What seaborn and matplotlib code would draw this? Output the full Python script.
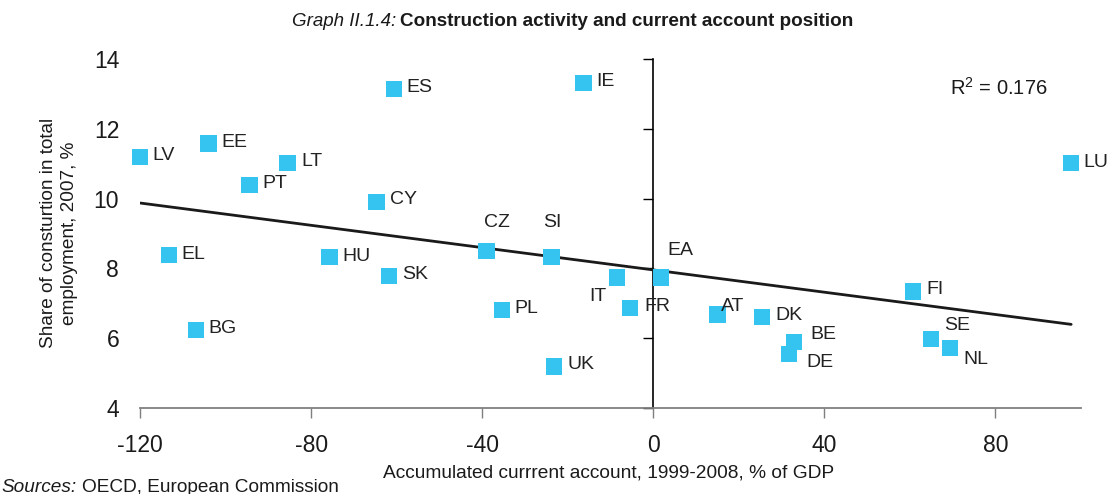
import numpy as np
import pandas as pd
import matplotlib
matplotlib.use("Agg")
import matplotlib.pyplot as plt
import seaborn as sns

# ---- data ----
countries = ["LV", "EE", "LT", "PT", "CY", "ES", "IE", "EL", "HU", "BG", "CZ", "SI",
             "SK", "PL", "UK", "IT", "EA", "FR", "AT", "DK", "BE", "DE", "FI", "SE",
             "NL", "LU"]
current_account = [-119.9, -104.0, -85.5, -94.4, -64.7, -60.7, -16.3, -113.3, -75.7,
                   -107.0, -39.0, -23.8, -61.7, -35.4, -23.2, -8.4, 1.9, -5.4, 15.0,
                   25.5, 33.0, 31.8, 60.7, 64.9, 69.4, 97.7]
construction_share = [11.18, 11.58, 11.01, 10.38, 9.91, 13.13, 13.30, 8.38, 8.32,
                      6.23, 8.49, 8.32, 7.77, 6.80, 5.19, 7.74, 7.74, 6.86, 6.68,
                      6.60, 5.89, 5.54, 7.34, 5.98, 5.71, 11.01]
x_ticks = [-120, -80, -40, 0, 40, 80]
y_ticks = [4, 6, 8, 10, 12, 14]
r_squared_text = "R$^{2}$ = 0.176"

# ---- label placement (style, in pixels: dx, dy, horizontal alignment) ----
label_style = {
    "LV": (12, 2, "left"), "EE": (13, 1, "left"), "LT": (14, 2, "left"),
    "PT": (13, 2, "left"), "CY": (13, 2, "left"), "ES": (13, 2, "left"),
    "IE": (13, 2, "left"), "EL": (13, 1, "left"), "HU": (13, 1, "left"),
    "BG": (13, 2, "left"), "CZ": (10, 29, "center"), "SI": (1, 35, "center"),
    "SK": (13, 2, "left"), "PL": (13, 2, "left"), "UK": (13, 2, "left"),
    "IT": (-19, -19, "center"), "EA": (19, 27, "center"), "FR": (14, 2, "left"),
    "AT": (4, 8, "left"), "DK": (13, 2, "left"), "BE": (16, 8, "left"),
    "DE": (17, -8, "left"), "FI": (13, 2, "left"), "SE": (13, 13, "left"),
    "NL": (13, -11, "left"), "LU": (12, 1, "left"),
}

df = pd.DataFrame({"country": countries, "ca": current_account, "cs": construction_share})

sns.set_style("white")
plt.rcParams["font.family"] = ["Liberation Sans", "DejaVu Sans"]
plt.rcParams["mathtext.fontset"] = "custom"
plt.rcParams["mathtext.rm"] = "Liberation Sans"
plt.rcParams["mathtext.default"] = "regular"

fig = plt.figure(figsize=(11.07, 4.94), dpi=100)
ax = fig.add_axes([140 / 1107, 1 - 408 / 494, 941 / 1107, 349 / 494])

sns.regplot(data=df, x="ca", y="cs", scatter=False, ci=None, truncate=True,
            color="#1a1a1a", line_kws={"lw": 2.0, "zorder": 3}, ax=ax)
sns.scatterplot(data=df, x="ca", y="cs", marker="s", s=135, color="#35C4F0",
                edgecolor="none", linewidth=0, zorder=4, ax=ax, legend=False,
                clip_on=False)

for _, row in df.iterrows():
    dx, dy, ha = label_style[row["country"]]
    ax.annotate(row["country"], (row["ca"], row["cs"]), xytext=(dx, dy),
                textcoords="offset pixels", ha=ha, va="center", fontsize=14,
                color="#222222", zorder=5, annotation_clip=False)

ax.set_xlim(-120, 100)
ax.set_ylim(4, 14)
ax.set_xticks(x_ticks)
ax.set_yticks(y_ticks)
ax.set_xticklabels([str(t) for t in x_ticks])
ax.set_yticklabels([str(t) for t in y_ticks])
ax.set_xlabel("")
ax.set_ylabel("")

for s in ["top", "right", "left"]:
    ax.spines[s].set_visible(False)
ax.spines["bottom"].set_color("#7f7f7f")
ax.spines["bottom"].set_linewidth(1.3)
ax.tick_params(axis="x", direction="out", length=7, width=1, color="#7f7f7f",
               labelsize=16.5, pad=12, labelcolor="#1a1a1a", bottom=True)
ax.tick_params(axis="y", length=0, labelsize=16.5, pad=15, labelcolor="#1a1a1a")

# vertical axis through x = 0 with ticks pointing left
zero_pos = (0 - ax.get_xlim()[0]) / (ax.get_xlim()[1] - ax.get_xlim()[0])
sec = ax.secondary_yaxis(zero_pos)
sec.set_alignment("left")
sec.set_yticks(y_ticks)
sec.tick_params(axis="y", direction="out", length=7, width=1, color="black",
                labelleft=False, labelright=False)
sec.spines["left"].set_color("black")
sec.spines["left"].set_linewidth(1.2)

ax.text(0.861, 0.917, r_squared_text, transform=ax.transAxes, ha="left",
        va="center", fontsize=14.5, color="#1a1a1a")

# axis titles
fig.text(59 / 1107, 1 - 233 / 494, "Share of consturtion in total\nemployment, 2007, %",
         rotation=90, ha="center", va="center", fontsize=13.7, linespacing=1.3,
         multialignment="center", color="#1a1a1a")
fig.text(609 / 1107, 1 - 473 / 494, "Accumulated currrent account, 1999-2008, % of GDP",
         ha="center", va="center", fontsize=13.8, color="#1a1a1a")

# title
fig.text(396 / 1107, 1 - 21 / 494, "Graph II.1.4:", ha="right", va="center",
         fontsize=13.5, style="italic", color="#1a1a1a")
fig.text(400 / 1107, 1 - 21 / 494, "Construction activity and current account position",
         ha="left", va="center", fontsize=13.6, fontweight="bold", color="#1a1a1a")

# source
src1 = fig.text(1 / 1107, 1 - 487 / 494, "Sources:", ha="left", va="center",
                fontsize=13.7, style="italic", color="#1a1a1a")
fig.canvas.draw()
bb = src1.get_window_extent(renderer=fig.canvas.get_renderer())
fig.text((bb.x1 + 6) / 1107, 1 - 487 / 494, "OECD, European Commission", ha="left",
         va="center", fontsize=13.7, color="#1a1a1a")

fig.savefig("out.png", dpi=100)
